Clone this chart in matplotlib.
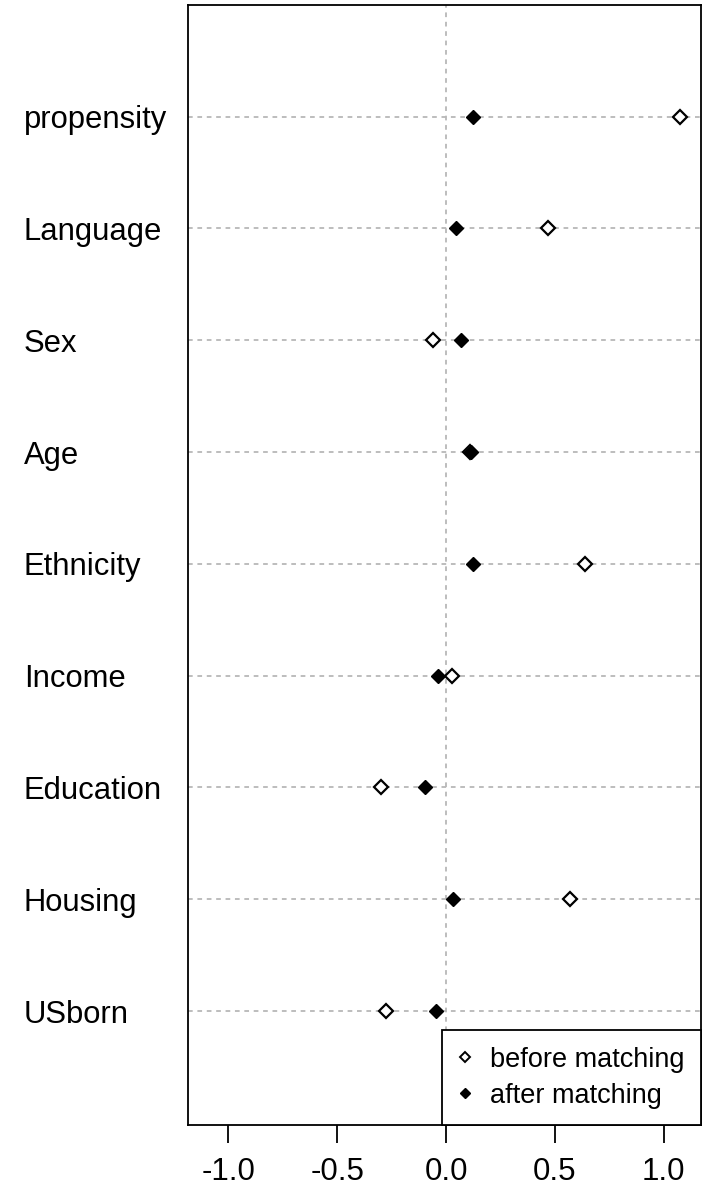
import numpy as np
import matplotlib
matplotlib.use("Agg")
import matplotlib.pyplot as plt
from matplotlib.lines import Line2D

plt.rcParams['font.family'] = ['Liberation Sans', 'DejaVu Sans']

# variables from bottom to top
variables = ['USborn', 'Housing', 'Education', 'Income', 'Ethnicity',
             'Age', 'Sex', 'Language', 'propensity']
before = [-0.276, 0.570, -0.299, 0.028, 0.639, 0.112, -0.060, 0.469, 1.076]
after = [-0.046, 0.032, -0.097, -0.037, 0.124, 0.115, 0.069, 0.046, 0.124]
xticks = [-1.0, -0.5, 0.0, 0.5, 1.0]

ypos = np.arange(1, len(variables) + 1)

fig = plt.figure(figsize=(7.09, 12.02), dpi=100)
ax = fig.add_axes([0.265, 0.064, 0.724, 0.932])

grid_kw = dict(color='#b8b8b8', linewidth=1.3, linestyle=(0, (2.6, 2.6)), zorder=1)
for y in ypos:
    ax.axhline(y, **grid_kw)
ax.axvline(0, **grid_kw)

ax.plot(before, ypos, linestyle='none', marker='D', markersize=6.8,
        markerfacecolor='white', markeredgecolor='black', markeredgewidth=1.6, zorder=3)
ax.plot(after, ypos, linestyle='none', marker='D', markersize=7.5,
        markerfacecolor='black', markeredgecolor='black', markeredgewidth=1.0, zorder=4)

ax.set_xlim(-1.186, 1.172)
ax.set_ylim(-0.02, 10.0)

ax.set_xticks(xticks)
ax.set_xticklabels(['%.1f' % v for v in xticks])
ax.set_yticks(ypos)
ax.set_yticklabels(variables, ha='left')
ax.tick_params(axis='y', length=0, pad=118, labelsize=22.3)
ax.tick_params(axis='x', length=13, width=1.3, direction='out', pad=10, labelsize=22.5)

for s in ax.spines.values():
    s.set_linewidth(1.3)

handles = [
    Line2D([], [], linestyle='none', marker='D', markersize=5, markerfacecolor='white',
           markeredgecolor='black', markeredgewidth=1.4),
    Line2D([], [], linestyle='none', marker='D', markersize=5.5, markerfacecolor='black',
           markeredgecolor='black'),
]
leg = ax.legend(handles, ['before matching', 'after matching'], loc='lower right',
                bbox_to_anchor=(1.0, 0.0), borderaxespad=0, fancybox=False,
                framealpha=1, edgecolor='black', fontsize=19.5, handlelength=0.5,
                handletextpad=0.7, borderpad=0.6, labelspacing=0.38)
leg.get_frame().set_linewidth(1.3)

fig.savefig('out.png', dpi=100)
